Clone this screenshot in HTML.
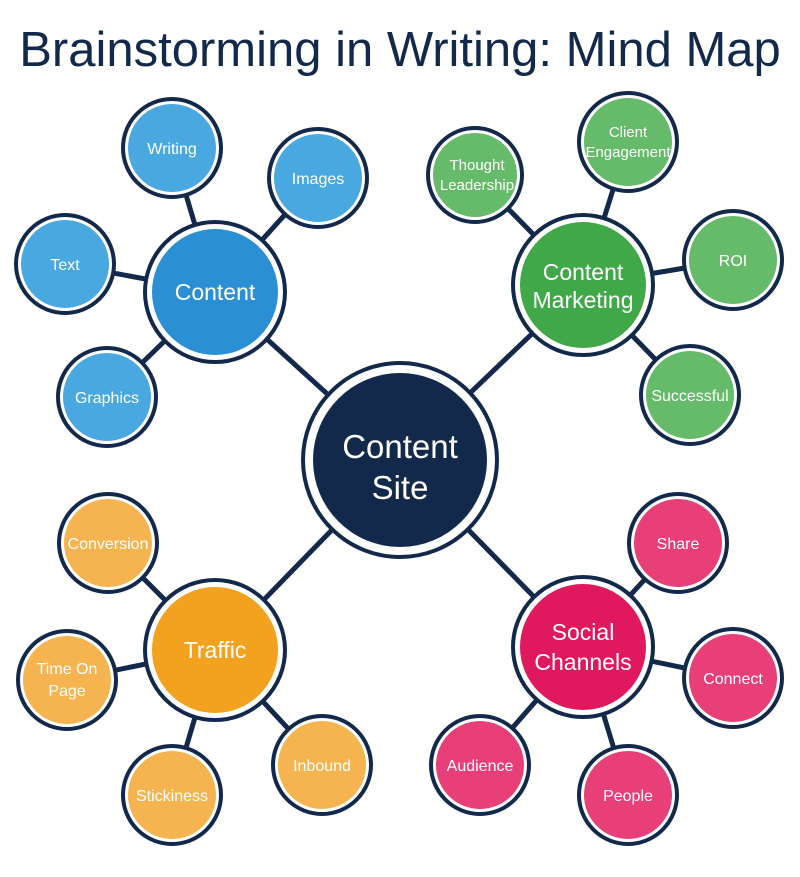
<!DOCTYPE html>
<html><head><meta charset="utf-8"><style>
body{margin:0;background:#fff;width:800px;height:872px;overflow:hidden}
svg text{font-family:"Liberation Sans",sans-serif;fill:#fff;text-anchor:middle}
</style></head><body>
<svg width="800" height="872" viewBox="0 0 800 872">
<text x="400" y="66" style="fill:#13294b;font-size:49px;font-weight:300">Brainstorming in Writing: Mind Map</text>
<g stroke="#13294b" stroke-width="5">
<line x1="400" y1="460" x2="215" y2="292"/><line x1="400" y1="460" x2="583" y2="285"/>
<line x1="400" y1="460" x2="215" y2="650"/><line x1="400" y1="460" x2="583" y2="647"/>
<line x1="215" y1="292" x2="172" y2="148"/><line x1="215" y1="292" x2="318" y2="178"/><line x1="215" y1="292" x2="65" y2="264"/><line x1="215" y1="292" x2="107" y2="397"/>
<line x1="583" y1="285" x2="475" y2="175"/><line x1="583" y1="285" x2="628" y2="142"/><line x1="583" y1="285" x2="733" y2="260"/><line x1="583" y1="285" x2="690" y2="395"/>
<line x1="215" y1="650" x2="108" y2="543"/><line x1="215" y1="650" x2="67" y2="680"/><line x1="215" y1="650" x2="172" y2="795"/><line x1="215" y1="650" x2="322" y2="765"/>
<line x1="583" y1="647" x2="678" y2="543"/><line x1="583" y1="647" x2="733" y2="678"/><line x1="583" y1="647" x2="628" y2="795"/><line x1="583" y1="647" x2="480" y2="765"/>
</g>
<g stroke="#13294b" stroke-width="4" fill="#fff">
<circle cx="400" cy="460" r="97"/>
<circle cx="215" cy="292" r="70"/><circle cx="583" cy="285" r="70"/><circle cx="215" cy="650" r="70"/><circle cx="583" cy="647" r="70"/>
<circle cx="172" cy="148" r="49"/><circle cx="318" cy="178" r="49"/><circle cx="65" cy="264" r="49"/><circle cx="107" cy="397" r="49"/>
<circle cx="475" cy="175" r="47"/><circle cx="628" cy="142" r="49"/><circle cx="733" cy="260" r="49"/><circle cx="690" cy="395" r="49"/>
<circle cx="108" cy="543" r="49"/><circle cx="67" cy="680" r="49"/><circle cx="172" cy="795" r="49"/><circle cx="322" cy="765" r="49"/>
<circle cx="678" cy="543" r="49"/><circle cx="733" cy="678" r="49"/><circle cx="628" cy="795" r="49"/><circle cx="480" cy="765" r="49"/>
</g>
<circle cx="400" cy="460" r="87" fill="#13294b"/>
<circle cx="215" cy="292" r="63" fill="#2b8fd3"/><circle cx="583" cy="285" r="63" fill="#41a84a"/><circle cx="215" cy="650" r="63" fill="#f2a21e"/><circle cx="583" cy="647" r="63" fill="#e0185e"/>
<g fill="#4aa8e0"><circle cx="172" cy="148" r="44"/><circle cx="318" cy="178" r="44"/><circle cx="65" cy="264" r="44"/><circle cx="107" cy="397" r="44"/></g>
<g fill="#66bb6a"><circle cx="475" cy="175" r="42"/><circle cx="628" cy="142" r="44"/><circle cx="733" cy="260" r="44"/><circle cx="690" cy="395" r="44"/></g>
<g fill="#f5b44f"><circle cx="108" cy="543" r="44"/><circle cx="67" cy="680" r="44"/><circle cx="172" cy="795" r="44"/><circle cx="322" cy="765" r="44"/></g>
<g fill="#e83f78"><circle cx="678" cy="543" r="44"/><circle cx="733" cy="678" r="44"/><circle cx="628" cy="795" r="44"/><circle cx="480" cy="765" r="44"/></g>
<g style="font-size:33px"><text x="400" y="458">Content</text><text x="400" y="499">Site</text></g>
<g style="font-size:23px"><text x="215" y="300">Content</text>
<text x="583" y="280">Content</text><text x="583" y="308">Marketing</text>
<text x="215" y="658">Traffic</text>
<text x="583" y="640">Social</text><text x="583" y="670">Channels</text></g>
<g style="font-size:16px">
<text x="172" y="154">Writing</text><text x="318" y="184">Images</text><text x="65" y="270">Text</text><text x="107" y="403">Graphics</text>
<text x="477" y="170" style="font-size:15px">Thought</text><text x="477" y="190" style="font-size:15px">Leadership</text>
<text x="628" y="137" style="font-size:15px">Client</text><text x="628" y="157" style="font-size:15px">Engagement</text>
<text x="733" y="266">ROI</text><text x="690" y="401">Successful</text>
<text x="108" y="549">Conversion</text><text x="67" y="674">Time On</text><text x="67" y="696">Page</text><text x="172" y="801">Stickiness</text><text x="322" y="771">Inbound</text>
<text x="678" y="549">Share</text><text x="733" y="684">Connect</text><text x="628" y="801">People</text><text x="480" y="771">Audience</text>
</g>
</svg>
</body></html>
